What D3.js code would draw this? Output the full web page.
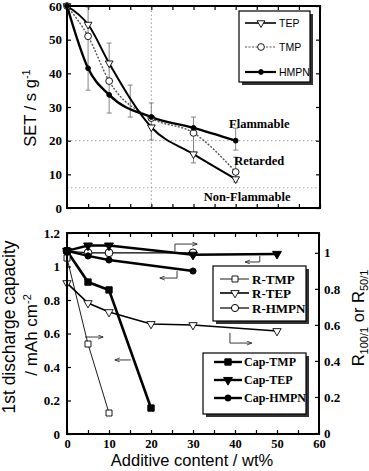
<!DOCTYPE html>
<html><head><meta charset="utf-8">
<script src="https://cdn.jsdelivr.net/npm/d3@7"></script>
<style>body{margin:0;background:#fff}svg{display:block}</style>
</head><body><svg id="c" width="369" height="471"></svg>
<script>
// ---------- DATA ----------
// top panel: self-extinguishing time (SET)
const topX = [0, 5, 10, 20, 30, 40];
const tepSET = [60, 54.5, 43, 24, 16, 8.6];
const tmpSET = [60, 51, 37.7, 26.7, 22.3, 10.7];
const hmpnSET = [60, 41.5, 33.6, 27, 23.8, 20];
const errX = [5, 10, 15, 20, 30, 40, 40];
const errLo = [35, 28.2, 27, 20.2, 13.4, 17.2, 7.7];
const errHi = [59.7, 49, 36.5, 31.2, 27, 23.7, 15.1];
const setTicks = [0, 10, 20, 30, 40, 50, 60];
const thresholds = [20, 6];
const zoneLabels = ["Flammable", "Retarded", "Non-Flammable"];
const topLegend = ["TEP", "TMP", "HMPN"];

// bottom panel: capacity (left axis) and retention R (right axis)
const capTmpX = [0, 5, 10, 20];
const capTmp = [1.093, 0.907, 0.86, 0.155];
const capTepX = [0, 5, 10, 30, 50];
const capTep = [1.093, 1.125, 1.125, 1.07, 1.075];
const capHmpnX = [0, 5, 10, 30];
const capHmpn = [1.093, 1.063, 1.039, 0.973];
const rTmpX = [0, 5, 10];
const rTmp = [0.971, 0.494, 0.111];
const rTepX = [0, 5, 10, 20, 30, 50];
const rTep = [0.832, 0.721, 0.671, 0.605, 0.599, 0.566];
const rHmpnX = [0, 5, 10, 30];
const rHmpn = [1.01, 1.0, 1.0, 1.0];
const xTicks = [0, 10, 20, 30, 40, 50, 60];
const capTicks = [0, 0.2, 0.4, 0.6, 0.8, 1, 1.2];
const rTicks = [0, 0.2, 0.4, 0.6, 0.8, 1];
const rLegend = ["R-TMP", "R-TEP", "R-HMPN"];
const capLegend = ["Cap-TMP", "Cap-TEP", "Cap-HMPN"];

// ---------- SETUP ----------
const svg = d3.select("#c");
const serif = "'Liberation Serif','Times New Roman',serif";
const sans = "'Liberation Sans',Arial,sans-serif";

const xT = d3.scaleLinear().domain([0, 60]).range([67, 320]);
const yT = d3.scaleLinear().domain([0, 60]).range([208, 6]);
const xB = d3.scaleLinear().domain([0, 60]).range([67, 319]);
const yL = d3.scaleLinear().domain([0, 1.2]).range([434, 233]);
const yR = d3.scaleLinear().domain([0, 1.11]).range([433, 233]);

const defs = svg.append("defs");
defs.append("marker").attr("id", "ah").attr("viewBox", "0 0 10 10")
  .attr("refX", 10).attr("refY", 5).attr("markerWidth", 7).attr("markerHeight", 5)
  .attr("markerUnits", "userSpaceOnUse").attr("orient", "auto")
  .append("path").attr("d", "M0,1L10,5L0,9").attr("fill", "none").attr("stroke", "#222").attr("stroke-width", 1.6);

function sym(g, type, size, x, y, fill, rot, sw) {
  g.append("path").attr("d", d3.symbol().type(type).size(size)())
    .attr("transform", `translate(${x},${y}) rotate(${rot || 0})`)
    .attr("fill", fill).attr("stroke", "#000").attr("stroke-width", sw || 1);
}
function styleAxis(g, size) {
  g.select(".domain").remove();
  g.selectAll(".tick line").attr("stroke", "#000").attr("stroke-width", 1.2);
  g.selectAll(".tick text").attr("font-family", serif).attr("font-weight", "bold")
    .attr("font-size", size).attr("fill", "#000");
}

// ---------- TOP PANEL ----------
const topG = svg.append("g");
topG.selectAll(".hl").data(thresholds).join("line")
  .attr("x1", xT(0)).attr("x2", xT(60)).attr("y1", d => yT(d)).attr("y2", d => yT(d))
  .attr("stroke", "#888").attr("stroke-width", 0.8).attr("stroke-dasharray", "1.5,2.5");
topG.append("line").attr("x1", xT(20)).attr("x2", xT(20)).attr("y1", yT(0)).attr("y2", yT(60))
  .attr("stroke", "#888").attr("stroke-width", 0.8).attr("stroke-dasharray", "1.5,2.5");

styleAxis(topG.append("g").attr("transform", `translate(${xT(0)},0)`)
  .call(d3.axisLeft(yT).tickValues(setTicks).tickSize(-4).tickPadding(5).tickFormat(d3.format("d"))), "13px");
styleAxis(topG.append("g").attr("transform", `translate(${xT(60)},0)`)
  .call(d3.axisRight(yT).tickValues(setTicks).tickSize(-4).tickFormat("")), "13px");
styleAxis(topG.append("g").attr("transform", `translate(0,${yT(0)})`)
  .call(d3.axisBottom(xT).tickValues(d3.range(0, 61, 5)).tickSize(-4).tickFormat("")), "13px");
styleAxis(topG.append("g").attr("transform", `translate(0,${yT(60)})`)
  .call(d3.axisTop(xT).tickValues(d3.range(0, 61, 5)).tickSize(-4).tickFormat("")), "13px");

errX.forEach((x, i) => {
  const g = topG.append("g").attr("stroke", "#777").attr("stroke-width", 0.9);
  g.append("line").attr("x1", xT(x)).attr("x2", xT(x)).attr("y1", yT(errLo[i])).attr("y2", yT(errHi[i]));
  [errLo[i], errHi[i]].forEach(v => g.append("line").attr("x1", xT(x) - 2.5).attr("x2", xT(x) + 2.5)
    .attr("y1", yT(v)).attr("y2", yT(v)));
});

const lineT = d3.line().x(d => xT(d[0])).y(d => yT(d[1])).curve(d3.curveMonotoneX);
const zipT = ys => topX.map((x, i) => [x, ys[i]]);
topG.append("path").attr("d", lineT(zipT(tmpSET))).attr("fill", "none").attr("stroke", "#555")
  .attr("stroke-width", 1.4).attr("stroke-dasharray", "2,1.5");
topG.append("path").attr("d", lineT(zipT(tepSET))).attr("fill", "none").attr("stroke", "#000").attr("stroke-width", 2);
topG.append("path").attr("d", lineT(zipT(hmpnSET))).attr("fill", "none").attr("stroke", "#000").attr("stroke-width", 2.4);

topX.forEach((x, i) => {
  sym(topG, d3.symbolTriangle, 26, xT(x), yT(tepSET[i]), "#fff", 180, 0.9);
  sym(topG, d3.symbolCircle, 36, xT(x), yT(tmpSET[i]), "#fff", 0, 0.9);
  sym(topG, d3.symbolCircle, 18, xT(x), yT(hmpnSET[i]), "#000", 0, 1);
});

const zonePos = [[45.6, 23.8], [45.6, 12.8], [42.7, 2.1]];
zoneLabels.forEach((t, i) => topG.append("text").attr("x", xT(zonePos[i][0])).attr("y", yT(zonePos[i][1]))
  .attr("text-anchor", "middle").attr("font-family", serif).attr("font-weight", "bold")
  .attr("font-size", "12.5px").text(t));

topG.append("rect").attr("x", xT(0)).attr("y", yT(60)).attr("width", xT(60) - xT(0)).attr("height", yT(0) - yT(60))
  .attr("fill", "none").attr("stroke", "#000").attr("stroke-width", 2);

(function () {
  const g = topG.append("g");
  g.append("rect").attr("x", 242).attr("y", 14).attr("width", 71).attr("height", 71).attr("fill", "#333");
  g.append("rect").attr("x", 239).attr("y", 11).attr("width", 71).attr("height", 71).attr("fill", "#fff")
    .attr("stroke", "#000").attr("stroke-width", 1.2);
  const ys = [23, 47, 72];
  topLegend.forEach((t, i) => {
    const l = g.append("line").attr("x1", 245).attr("x2", 276).attr("y1", ys[i]).attr("y2", ys[i]).attr("stroke", "#000");
    if (i === 0) { l.attr("stroke-width", 1.6); sym(g, d3.symbolTriangle, 26, 261, ys[i], "#fff", 180, 0.9); }
    if (i === 1) { l.attr("stroke", "#555").attr("stroke-width", 1.2).attr("stroke-dasharray", "2,1.5"); sym(g, d3.symbolCircle, 36, 261, ys[i], "#fff", 0, 0.9); }
    if (i === 2) { l.attr("stroke-width", 2.2); sym(g, d3.symbolCircle, 18, 261, ys[i], "#000", 0, 1); }
    g.append("text").attr("x", 279).attr("y", ys[i] + 3.6).attr("font-family", sans).attr("font-size", "10.5px").text(t);
  });
})();

svg.append("text").attr("transform", "translate(36,108) rotate(-90)").attr("text-anchor", "middle")
  .attr("font-family", sans).attr("font-size", "16.5px")
  .html('SET / s g<tspan dy="-6" font-size="11px">-1</tspan>');

// ---------- BOTTOM PANEL ----------
const bot = svg.append("g");
const fmtB = d => d === 0 || d === 1 ? d3.format("d")(d) : d3.format(".1f")(d);
styleAxis(bot.append("g").attr("transform", `translate(${xB(0)},0)`)
  .call(d3.axisLeft(yL).tickValues(capTicks).tickSize(-4).tickPadding(7).tickFormat(fmtB)), "13px");
styleAxis(bot.append("g").attr("transform", `translate(${xB(60)},0)`)
  .call(d3.axisRight(yR).tickValues(rTicks).tickSize(-4).tickPadding(5).tickFormat(fmtB)), "13px");
styleAxis(bot.append("g").attr("transform", `translate(0,${yL(0)})`)
  .call(d3.axisBottom(xB).tickValues(d3.range(0, 61, 5)).tickSize(-4).tickPadding(5).tickFormat(d => xTicks.includes(d) ? d : "")), "12.5px");
styleAxis(bot.append("g").attr("transform", `translate(0,${yL(1.2)})`)
  .call(d3.axisTop(xB).tickValues(d3.range(0, 61, 5)).tickSize(-4).tickFormat("")), "13px");

const lineL = d3.line().x(d => xB(d[0])).y(d => yL(d[1]));
const lineR = d3.line().x(d => xB(d[0])).y(d => yR(d[1]));
const zip = (xs, ys) => xs.map((x, i) => [x, ys[i]]);

bot.append("path").attr("d", lineR(zip(rTmpX, rTmp))).attr("fill", "none").attr("stroke", "#000").attr("stroke-width", 0.9);
bot.append("path").attr("d", lineR(zip(rTepX, rTep))).attr("fill", "none").attr("stroke", "#000").attr("stroke-width", 1.6);
bot.append("path").attr("d", lineR(zip(rHmpnX, rHmpn))).attr("fill", "none").attr("stroke", "#000").attr("stroke-width", 1.2);
bot.append("path").attr("d", lineL(zip(capTmpX, capTmp))).attr("fill", "none").attr("stroke", "#000").attr("stroke-width", 2.6);
bot.append("path").attr("d", lineL(zip(capTepX, capTep))).attr("fill", "none").attr("stroke", "#000").attr("stroke-width", 2.4);
bot.append("path").attr("d", lineL(zip(capHmpnX, capHmpn))).attr("fill", "none").attr("stroke", "#000").attr("stroke-width", 2.4);

rTmpX.forEach((x, i) => sym(bot, d3.symbolSquare, 36, xB(x), yR(rTmp[i]), "#fff", 0, 0.9));
rTepX.forEach((x, i) => sym(bot, d3.symbolTriangle, 30, xB(x), yR(rTep[i]), "#fff", 180, 0.9));
rHmpnX.forEach((x, i) => sym(bot, d3.symbolCircle, 48, xB(x), yR(rHmpn[i]), "#fff", 0, 1));
capTmpX.forEach((x, i) => sym(bot, d3.symbolSquare, 40, xB(x), yL(capTmp[i]), "#000", 0, 1));
capTepX.forEach((x, i) => sym(bot, d3.symbolTriangle, 34, xB(x), yL(capTep[i]), "#000", 180, 1));
capHmpnX.forEach((x, i) => sym(bot, d3.symbolCircle, 30, xB(x), yL(capHmpn[i]), "#000", 0, 1));

const arrows = [
  [[25.7, 1.09], [25.7, 1.134], [31, 1.134]],
  [[26.2, 0.973], [26.2, 0.931], [22.1, 0.931]],
  [[45.9, 1.063], [45.9, 1.027], [42.4, 1.027]],
  [[38.8, 0.603], [38.8, 0.543], [44, 0.543]],
  [[4.3, 0.579], [8.6, 0.579]],
  [[15.2, 0.442], [11.4, 0.442]]
];
arrows.forEach(a => bot.append("path").attr("d", lineL(a)).attr("fill", "none")
  .attr("stroke", "#222").attr("stroke-width", 0.9).attr("marker-end", "url(#ah)"));

bot.append("rect").attr("x", xB(0)).attr("y", yL(1.2)).attr("width", xB(60) - xB(0)).attr("height", yL(0) - yL(1.2))
  .attr("fill", "none").attr("stroke", "#000").attr("stroke-width", 2);

(function () {
  const g = bot.append("g");
  g.append("rect").attr("x", 216).attr("y", 269).attr("width", 93).attr("height", 55).attr("fill", "#333");
  g.append("rect").attr("x", 213).attr("y", 266).attr("width", 93).attr("height", 55).attr("fill", "#fff")
    .attr("stroke", "#000").attr("stroke-width", 1.2);
  const ys = [279, 293, 308];
  rLegend.forEach((t, i) => {
    g.append("line").attr("x1", 220).attr("x2", 249).attr("y1", ys[i]).attr("y2", ys[i])
      .attr("stroke", "#000").attr("stroke-width", [0.9, 1.6, 1.2][i]);
    if (i === 0) sym(g, d3.symbolSquare, 36, 235, ys[i], "#fff", 0, 0.9);
    if (i === 1) sym(g, d3.symbolTriangle, 30, 235, ys[i], "#fff", 180, 0.9);
    if (i === 2) sym(g, d3.symbolCircle, 40, 235, ys[i], "#fff", 0, 1);
    g.append("text").attr("x", 252).attr("y", ys[i] + 4.5).attr("font-family", serif).attr("font-weight", "bold")
      .attr("font-size", "13px").text(t);
  });
})();

(function () {
  const g = bot.append("g");
  g.append("rect").attr("x", 206).attr("y", 356).attr("width", 103).attr("height", 61).attr("fill", "#333");
  g.append("rect").attr("x", 203).attr("y", 353).attr("width", 103).attr("height", 61).attr("fill", "#fff")
    .attr("stroke", "#000").attr("stroke-width", 1.2);
  const ys = [362, 380, 398];
  capLegend.forEach((t, i) => {
    g.append("line").attr("x1", 214).attr("x2", 242).attr("y1", ys[i]).attr("y2", ys[i])
      .attr("stroke", "#000").attr("stroke-width", 2.4);
    if (i === 0) sym(g, d3.symbolSquare, 40, 228, ys[i], "#000", 0, 1);
    if (i === 1) sym(g, d3.symbolTriangle, 34, 228, ys[i], "#000", 180, 1);
    if (i === 2) sym(g, d3.symbolCircle, 30, 228, ys[i], "#000", 0, 1);
    g.append("text").attr("x", 244).attr("y", ys[i] + 4.3).attr("font-family", serif).attr("font-weight", "bold")
      .attr("font-size", "12px").text(t);
  });
})();

svg.append("text").attr("transform", "translate(15,327) rotate(-90)").attr("text-anchor", "middle")
  .attr("font-family", sans).attr("font-size", "17.5px").text("1st discharge capacity");
svg.append("text").attr("transform", "translate(37,335) rotate(-90)").attr("text-anchor", "middle")
  .attr("font-family", sans).attr("font-size", "17px")
  .html('/ mAh cm<tspan dy="-6" font-size="11px">-2</tspan>');
svg.append("text").attr("transform", "translate(364,318) rotate(-90)").attr("text-anchor", "middle")
  .attr("font-family", sans).attr("font-size", "16.5px")
  .html('R<tspan dy="4" font-size="11px">100/1</tspan><tspan dy="-4"> or R</tspan><tspan dy="4" font-size="11px">50/1</tspan>');
svg.append("text").attr("x", 192).attr("y", 466).attr("text-anchor", "middle")
  .attr("font-family", sans).attr("font-size", "16.5px").text("Additive content / wt%");
</script></body></html>
